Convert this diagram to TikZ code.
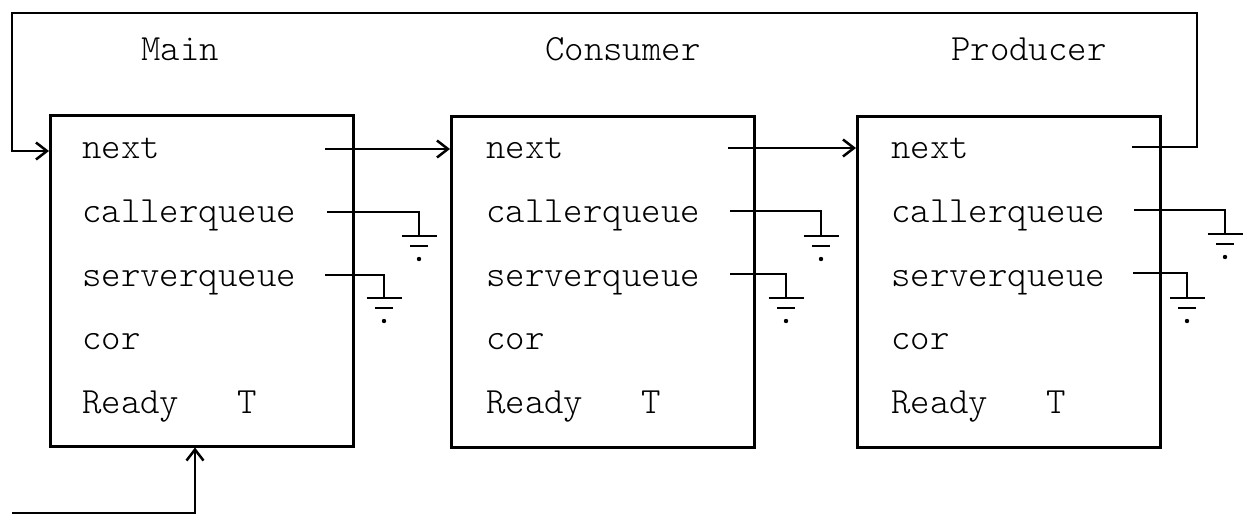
\documentclass[tikz,border=0pt]{standalone}
\usepackage{fontspec}
\setmonofont{Latin Modern Mono Light}
\usetikzlibrary{arrows.meta}
\tikzset{
  wire/.style={line width=2.5pt},
  ptr/.style={wire,-{Straight Barb[length=11pt,width=17pt,line width=2.5pt]}},
  rec/.style={draw,line width=2.5pt,minimum width=303pt,minimum height=331pt,inner sep=0pt,anchor=north west},
  lbl/.style={anchor=base west,inner sep=0pt,font=\fontsize{37}{37}\selectfont\ttfamily},
  gnd/.pic={
    \draw[wire] (-17.5,0) -- (17.5,0);
    \draw[wire] (-9,10) -- (9,10);
    \fill (0,23) circle (2.2);
  }
}
\begin{document}
\begin{tikzpicture}[x=1pt,y=-1pt]
\useasboundingbox (0,0) rectangle (1247,515);

% boxes
\node[rec] (main) at (49,114) {};
\node[rec] (cons) at (450,115) {};
\node[rec] (prod) at (856,115) {};

% titles
\node[lbl] (t-main) at (141,60) {Main};
\node[lbl] (t-cons) at (545,60) {Consumer};
\node[lbl] (t-prod) at (951,60) {Producer};

% fields
\foreach \b/\x in {m/82,c/486,p/891}{
  \node[lbl] (\b-next)   at (\x,158) {next};
  \node[lbl] (\b-caller) at (\x,222) {callerqueue};
  \node[lbl] (\b-server) at (\x,286) {serverqueue};
  \node[lbl] (\b-cor)    at (\x,349) {cor};
  \node[lbl] (\b-ready)  at (\x,413) {Ready\ \ \ T};
}

% pointer starts
\coordinate (m-n) at (325,149);
\coordinate (c-n) at (728,148);
\coordinate (p-n) at (1132,147);

\coordinate (m-c) at (327,212);  \coordinate (m-cg) at (419,236);
\coordinate (m-s) at (325,275);  \coordinate (m-sg) at (384,298);
\coordinate (c-c) at (730,211);  \coordinate (c-cg) at (821,236);
\coordinate (c-s) at (730,274);  \coordinate (c-sg) at (786,298);
\coordinate (p-c) at (1134,210); \coordinate (p-cg) at (1225,234);
\coordinate (p-s) at (1133,273); \coordinate (p-sg) at (1187,298);

% next links
\draw[ptr] (m-n) -- (m-n -| cons.west);
\draw[ptr] (c-n) -- (c-n -| prod.west);

% nil pointers to ground
\foreach \b in {m,c,p}{
  \draw[wire] (\b-c) -| (\b-cg);
  \pic at (\b-cg) {gnd};
  \draw[wire] (\b-s) -| (\b-sg);
  \pic at (\b-sg) {gnd};
}

% loop from producer back to main
\coordinate (topR) at (1197,13);
\coordinate (loopin) at (12,151);
\draw[ptr] (p-n) -| (topR) -| (loopin) -- (loopin -| main.west);

% entry arrow at bottom
\coordinate (bin) at (12,513);
\coordinate (bup) at (195,513);
\draw[ptr] (bin) -- (bup) -- (bup |- main.south);
\end{tikzpicture}
\end{document}
